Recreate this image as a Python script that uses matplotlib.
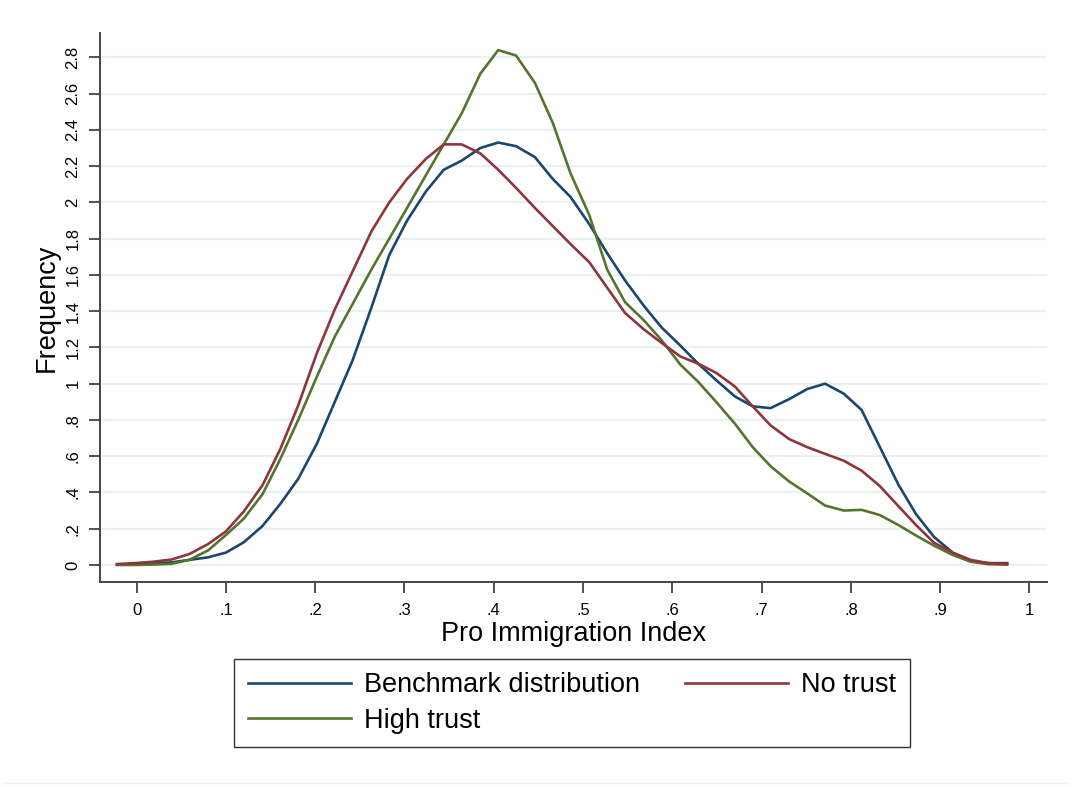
import matplotlib
matplotlib.use("Agg")
import matplotlib.pyplot as plt
from matplotlib.lines import Line2D

plt.rcParams['font.family'] = ['Liberation Sans', 'DejaVu Sans']

# evaluation points of the density estimates
x_pts = [-0.022, -0.002, 0.019, 0.039, 0.059, 0.080, 0.100, 0.120, 0.141, 0.161,
         0.181, 0.202, 0.222, 0.242, 0.263, 0.283, 0.303, 0.324, 0.344, 0.364,
         0.385, 0.405, 0.425, 0.446, 0.466, 0.486, 0.507, 0.527, 0.547, 0.568,
         0.588, 0.609, 0.629, 0.649, 0.670, 0.690, 0.710, 0.731, 0.751, 0.771,
         0.792, 0.812, 0.832, 0.853, 0.873, 0.893, 0.914, 0.934, 0.954, 0.975]

benchmark = [0.002, 0.005, 0.010, 0.014, 0.028, 0.042, 0.068, 0.125, 0.215, 0.337,
             0.475, 0.670, 0.900, 1.130, 1.420, 1.710, 1.900, 2.060, 2.180, 2.230,
             2.300, 2.330, 2.310, 2.250, 2.130, 2.030, 1.880, 1.720, 1.570, 1.430,
             1.310, 1.210, 1.110, 1.020, 0.930, 0.875, 0.865, 0.915, 0.970, 1.000,
             0.945, 0.855, 0.655, 0.445, 0.280, 0.155, 0.068, 0.020, 0.010, 0.010]

no_trust = [0.005, 0.010, 0.018, 0.030, 0.060, 0.115, 0.185, 0.295, 0.440, 0.640,
            0.880, 1.170, 1.410, 1.620, 1.840, 2.000, 2.130, 2.240, 2.320, 2.320,
            2.270, 2.180, 2.080, 1.970, 1.870, 1.770, 1.670, 1.530, 1.390, 1.300,
            1.225, 1.150, 1.110, 1.060, 0.985, 0.875, 0.770, 0.694, 0.650, 0.613,
            0.575, 0.520, 0.437, 0.326, 0.220, 0.123, 0.068, 0.028, 0.010, 0.005]

high_trust = [0.000, 0.000, 0.002, 0.006, 0.028, 0.080, 0.165, 0.255, 0.390, 0.585,
              0.800, 1.040, 1.260, 1.440, 1.630, 1.800, 1.970, 2.150, 2.320, 2.490,
              2.710, 2.840, 2.810, 2.660, 2.440, 2.160, 1.930, 1.630, 1.450, 1.350,
              1.240, 1.105, 1.010, 0.900, 0.780, 0.650, 0.545, 0.460, 0.395, 0.328,
              0.300, 0.304, 0.276, 0.221, 0.162, 0.107, 0.055, 0.018, 0.004, 0.002]

x_ticks = [0, .1, .2, .3, .4, .5, .6, .7, .8, .9, 1]
x_labels = ["0", ".1", ".2", ".3", ".4", ".5", ".6", ".7", ".8", ".9", "1"]
y_ticks = [0, .2, .4, .6, .8, 1, 1.2, 1.4, 1.6, 1.8, 2, 2.2, 2.4, 2.6, 2.8]
y_labels = ["0", ".2", ".4", ".6", ".8", "1", "1.2", "1.4", "1.6", "1.8",
            "2", "2.2", "2.4", "2.6", "2.8"]

col_blue = "#1a476f"
col_red = "#90353b"
col_green = "#55752f"

fig = plt.figure(figsize=(10.73, 7.87), dpi=100)
ax = fig.add_axes([0.0932, 0.2605, 0.8826, 0.6975])

# grid lines first
for yv in y_ticks:
    ax.axhline(yv, color="#eaf1f3", lw=1.6, zorder=0)

ax.plot(x_pts, benchmark, color=col_blue, lw=1.9, label="Benchmark distribution")
ax.plot(x_pts, high_trust, color=col_green, lw=1.9, label="High trust")
ax.plot(x_pts, no_trust, color=col_red, lw=1.9, label="No trust")

ax.set_xlim(-0.041, 1.0197)
ax.set_ylim(-0.094, 2.934)

ax.set_xticks(x_ticks)
ax.set_xticklabels(x_labels, fontsize=12)
ax.set_yticks(y_ticks)
ax.set_yticklabels(y_labels, fontsize=12, rotation=90, va="center")
ax.tick_params(axis="both", direction="out", length=8, width=1.2, color="#333333")
ax.tick_params(axis="x", pad=7)
ax.tick_params(axis="y", pad=6)

for s in ["top", "right"]:
    ax.spines[s].set_visible(False)
for s in ["left", "bottom"]:
    ax.spines[s].set_color("#444444")
    ax.spines[s].set_linewidth(1.4)

ax.set_xlabel("Pro Immigration Index", fontsize=19.5, labelpad=2)
ax.set_ylabel("Frequency", fontsize=19.5, labelpad=4)

handles = [Line2D([], [], color=col_blue, lw=1.9),
           Line2D([], [], color=col_green, lw=1.9),
           Line2D([], [], color=col_red, lw=1.9)]
labels = ["Benchmark distribution", "High trust", "No trust"]
leg = fig.legend(handles, labels, ncol=2, loc="center",
                 bbox_to_anchor=(572 / 1073, 1 - 703 / 787),
                 fontsize=19.5, frameon=True, fancybox=False,
                 handlelength=3.8, handletextpad=0.5, columnspacing=1.65,
                 labelspacing=0.36, borderpad=0.5, borderaxespad=0)
leg.get_frame().set_edgecolor("black")
leg.get_frame().set_linewidth(1.0)

# faint outer region line at the bottom
fig.add_artist(Line2D([0.005, 0.995], [1 - 783 / 787, 1 - 783 / 787],
                      transform=fig.transFigure, color="#f0f0f0", lw=1))

fig.savefig("out.png", dpi=100)
